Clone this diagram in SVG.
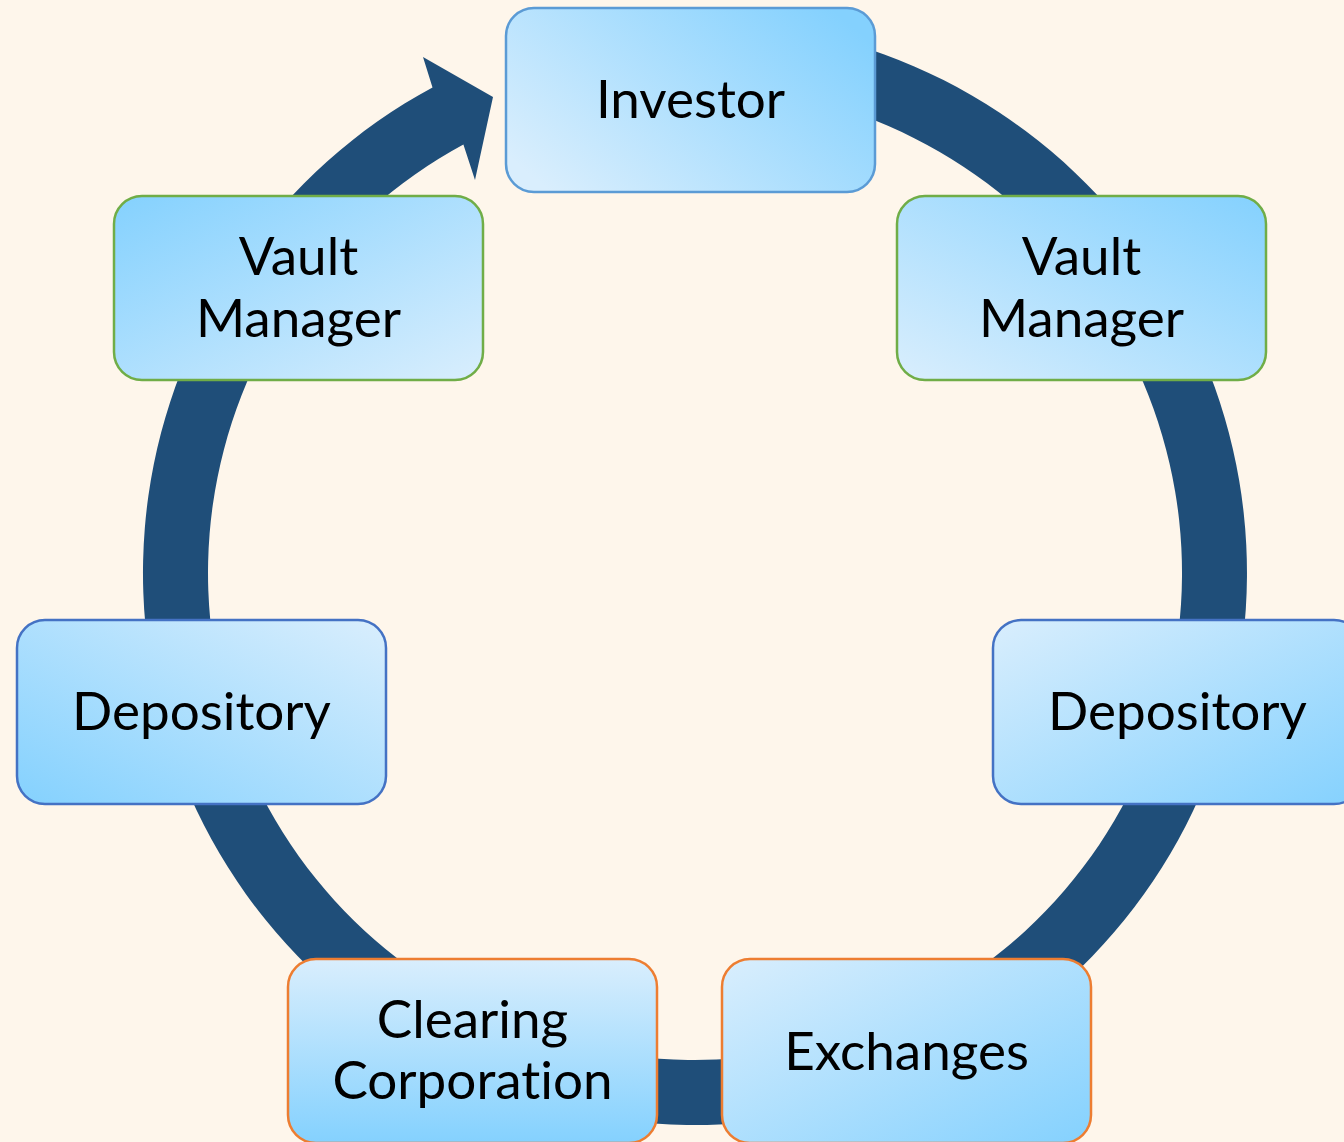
<svg xmlns="http://www.w3.org/2000/svg" width="1344" height="1142" viewBox="0 0 1344 1142">
  <defs>
    <!-- light-to-deep sky blue fills, one direction per node -->
    <linearGradient id="gInvestor" x1="0" y1="0.8" x2="1" y2="0.2">
      <stop offset="0" stop-color="#D9EEFD"/>
      <stop offset="1" stop-color="#84D1FE"/>
    </linearGradient>
    <linearGradient id="gVaultL" x1="0" y1="0" x2="1" y2="1">
      <stop offset="0" stop-color="#84D1FE"/>
      <stop offset="1" stop-color="#D9EEFD"/>
    </linearGradient>
    <linearGradient id="gVaultR" x1="0" y1="1" x2="1" y2="0">
      <stop offset="0" stop-color="#D9EEFD"/>
      <stop offset="1" stop-color="#84D1FE"/>
    </linearGradient>
    <linearGradient id="gDepL" x1="0" y1="1" x2="1" y2="0">
      <stop offset="0" stop-color="#84D1FE"/>
      <stop offset="1" stop-color="#D9EEFD"/>
    </linearGradient>
    <linearGradient id="gDepR" x1="0" y1="0" x2="1" y2="1">
      <stop offset="0" stop-color="#D9EEFD"/>
      <stop offset="1" stop-color="#84D1FE"/>
    </linearGradient>
    <linearGradient id="gClear" x1="0" y1="0" x2="0" y2="1">
      <stop offset="0" stop-color="#D9EEFD"/>
      <stop offset="1" stop-color="#84D1FE"/>
    </linearGradient>
    <linearGradient id="gExch" x1="0" y1="0" x2="1" y2="1">
      <stop offset="0" stop-color="#D9EEFD"/>
      <stop offset="1" stop-color="#84D1FE"/>
    </linearGradient>
    <style>
      .box { stroke-width: 2.5; }
      .blue { stroke: #5B9BD5; }
      .navy { stroke: #4472C4; }
      .green { stroke: #70AD47; }
      .orange { stroke: #ED7D31; }
      .label { font-family: Lato, "Open Sans", sans-serif; font-size: 53px; fill: #000; text-anchor: middle; font-variant-ligatures: none; }
    </style>
  </defs>

  <rect width="1344" height="1142" fill="#FEF6EB"/>

  <!-- circular flow band ending in an arrowhead pointing at Investor -->
  <g id="connectors">
    <path fill="#1F4E79" d="M 790.9 29.4 A 552 552 0 1 1 432.5 87.4 L 423 57 L 493 97 L 475 180 L 463.4 144.6 A 487 487 0 1 0 779.6 93.4 Z"/>
  </g>

  <g id="investor">
    <rect class="box blue" x="506" y="8" width="369" height="184" rx="28" fill="url(#gInvestor)"/>
    <text class="label" x="690.5" y="118">Investor</text>
  </g>

  <g id="vault-manager-left">
    <rect class="box green" x="114" y="196" width="369" height="184" rx="28" fill="url(#gVaultL)"/>
    <text class="label" x="298.5" y="275">Vault</text>
    <text class="label" x="298.5" y="337">Manager</text>
  </g>

  <g id="vault-manager-right">
    <rect class="box green" x="897" y="196" width="369" height="184" rx="28" fill="url(#gVaultR)"/>
    <text class="label" x="1081.5" y="275">Vault</text>
    <text class="label" x="1081.5" y="337">Manager</text>
  </g>

  <g id="depository-left">
    <rect class="box navy" x="17" y="620" width="369" height="184" rx="28" fill="url(#gDepL)"/>
    <text class="label" x="201.5" y="730">Depository</text>
  </g>

  <g id="depository-right">
    <rect class="box navy" x="993" y="620" width="369" height="184" rx="28" fill="url(#gDepR)"/>
    <text class="label" x="1177.5" y="730">Depository</text>
  </g>

  <g id="clearing-corporation">
    <rect class="box orange" x="288" y="959" width="369" height="184" rx="28" fill="url(#gClear)"/>
    <text class="label" x="472.5" y="1038">Clearing</text>
    <text class="label" x="472.5" y="1099">Corporation</text>
  </g>

  <g id="exchanges">
    <rect class="box orange" x="722" y="959" width="369" height="184" rx="28" fill="url(#gExch)"/>
    <text class="label" x="906.5" y="1070">Exchanges</text>
  </g>
</svg>
